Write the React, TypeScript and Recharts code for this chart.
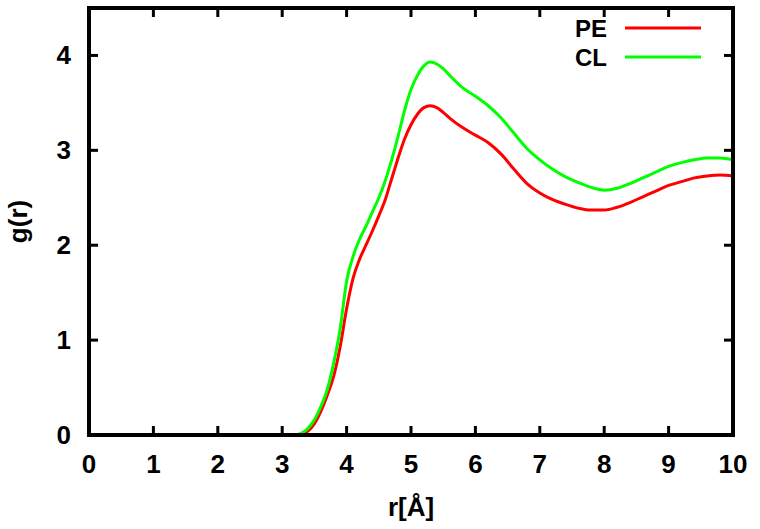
import { Legend, Line, LineChart, XAxis, YAxis } from "recharts";

const FONT = '"Liberation Sans", Arial, Helvetica, sans-serif';

// r in Angstrom
const r = [
  3.1, 3.2, 3.3, 3.4, 3.5, 3.6, 3.7, 3.8, 3.9, 4.0, 4.1, 4.2, 4.3, 4.4, 4.5, 4.6,
  4.7, 4.8, 4.9, 5.0, 5.1, 5.2, 5.3, 5.4, 5.5, 5.6, 5.8, 6.0, 6.2, 6.4, 6.6, 6.8,
  7.0, 7.2, 7.4, 7.6, 7.8, 8.0, 8.2, 8.4, 8.6, 8.8, 9.0, 9.2, 9.4, 9.6, 9.8, 10.0,
];

const pe = [
  0, 0, 0.01, 0.04, 0.12, 0.25, 0.42, 0.62, 0.93, 1.33, 1.65, 1.85, 2.0, 2.15, 2.31, 2.48,
  2.7, 2.92, 3.12, 3.27, 3.38, 3.45, 3.47, 3.45, 3.4, 3.34, 3.24, 3.16, 3.08, 2.96, 2.8, 2.65,
  2.55, 2.48, 2.43, 2.39, 2.37, 2.37, 2.4, 2.45, 2.51, 2.57, 2.63, 2.67, 2.71, 2.73, 2.74, 2.73,
];

const cl = [
  0, 0, 0.02, 0.07, 0.16, 0.3, 0.48, 0.76, 1.12, 1.62, 1.88, 2.06, 2.2, 2.35, 2.5, 2.68,
  2.9, 3.15, 3.42, 3.64, 3.79, 3.89, 3.93, 3.91, 3.86, 3.79, 3.66, 3.57, 3.47, 3.34, 3.18, 3.02,
  2.9, 2.8, 2.72, 2.66, 2.61, 2.58, 2.6, 2.65, 2.71, 2.77, 2.83, 2.87, 2.9, 2.92, 2.92, 2.9,
];

const seriesOrder = ["PE", "CL"];
const xTicks = [0, 1, 2, 3, 4, 5, 6, 7, 8, 9, 10];
const yTicks = [0, 1, 2, 3, 4];

const data = r.map((v, i) => ({ r: v, PE: pe[i], CL: cl[i] }));

const TICK_LEN = 9;

const textProps = {
  fill: "#000",
  fontSize: 26,
  fontWeight: "bold",
  fontFamily: FONT,
} as const;

function BottomTick({ x, y, payload }: any) {
  return (
    <g>
      <line x1={x} x2={x} y1={y} y2={y - TICK_LEN} stroke="#000" strokeWidth={3} />
      <text x={x} y={y + 38} textAnchor="middle" {...textProps}>
        {payload.value}
      </text>
    </g>
  );
}

function TopTick({ x, y }: any) {
  return <line x1={x} x2={x} y1={y} y2={y + TICK_LEN} stroke="#000" strokeWidth={3} />;
}

function LeftTick({ x, y, payload }: any) {
  return (
    <g>
      <line x1={x} x2={x + TICK_LEN} y1={y} y2={y} stroke="#000" strokeWidth={3} />
      <text x={x - 18} y={y + 9} textAnchor="end" {...textProps}>
        {payload.value}
      </text>
    </g>
  );
}

function RightTick({ x, y }: any) {
  return <line x1={x} x2={x - TICK_LEN} y1={y} y2={y} stroke="#000" strokeWidth={3} />;
}

function KeyBox({ payload }: any) {
  const items = [...(payload ?? [])].sort(
    (a: any, b: any) => seriesOrder.indexOf(a.value) - seriesOrder.indexOf(b.value)
  );
  return (
    <svg width={760} height={80} style={{ display: "block" }}>
      {items.map((item: any, i: number) => (
        <g key={item.value}>
          <text
            x={607}
            y={37 + i * 29}
            textAnchor="end"
            fill="#000"
            fontSize={24}
            fontWeight="bold"
            fontFamily={FONT}
          >
            {item.value}
          </text>
          <line x1={625} x2={701} y1={28 + i * 29} y2={28 + i * 29} stroke={item.color} strokeWidth={3} />
        </g>
      ))}
    </svg>
  );
}

const frame = { stroke: "#000", strokeWidth: 4, strokeLinecap: "square" as const };

export default function App() {
  return (
    <div style={{ position: "absolute", left: 0, top: 0, background: "#fff" }}>
      <LineChart width={760} height={529} data={data} margin={{ top: 7, right: 26, bottom: 0, left: 0 }}>
        <XAxis
          dataKey="r"
          type="number"
          domain={[0, 10]}
          ticks={xTicks}
          allowDataOverflow
          height={94}
          tickSize={0}
          tickMargin={0}
          tickLine={false}
          axisLine={frame}
          tick={<BottomTick />}
          label={{ value: "r[Å]", position: "insideBottom", offset: 13, ...textProps }}
        />
        <XAxis
          xAxisId="top"
          orientation="top"
          dataKey="r"
          type="number"
          domain={[0, 10]}
          ticks={xTicks}
          allowDataOverflow
          height={1}
          tickSize={0}
          tickMargin={0}
          tickLine={false}
          axisLine={frame}
          tick={<TopTick />}
        />
        <YAxis
          type="number"
          domain={[0, 4.5]}
          ticks={yTicks}
          allowDataOverflow
          width={89}
          tickSize={0}
          tickMargin={0}
          tickLine={false}
          axisLine={frame}
          tick={<LeftTick />}
          label={{
            value: "g(r)",
            angle: -90,
            position: "insideLeft",
            offset: 18,
            style: { textAnchor: "middle" },
            ...textProps,
          }}
        />
        <YAxis
          yAxisId="right"
          orientation="right"
          type="number"
          domain={[0, 4.5]}
          ticks={yTicks}
          allowDataOverflow
          width={1}
          tickSize={0}
          tickMargin={0}
          tickLine={false}
          axisLine={frame}
          tick={<RightTick />}
        />
        <Legend
          layout="horizontal"
          verticalAlign="middle"
          align="center"
          content={<KeyBox />}
          wrapperStyle={{ top: 0, left: 0, width: 760, height: 80 }}
        />
        <Line
          dataKey="PE"
          name="PE"
          type="monotone"
          stroke="#ff0000"
          strokeWidth={3}
          dot={false}
          isAnimationActive={false}
        />
        <Line
          dataKey="CL"
          name="CL"
          type="monotone"
          stroke="#00ff00"
          strokeWidth={3}
          dot={false}
          isAnimationActive={false}
        />
      </LineChart>
    </div>
  );
}
